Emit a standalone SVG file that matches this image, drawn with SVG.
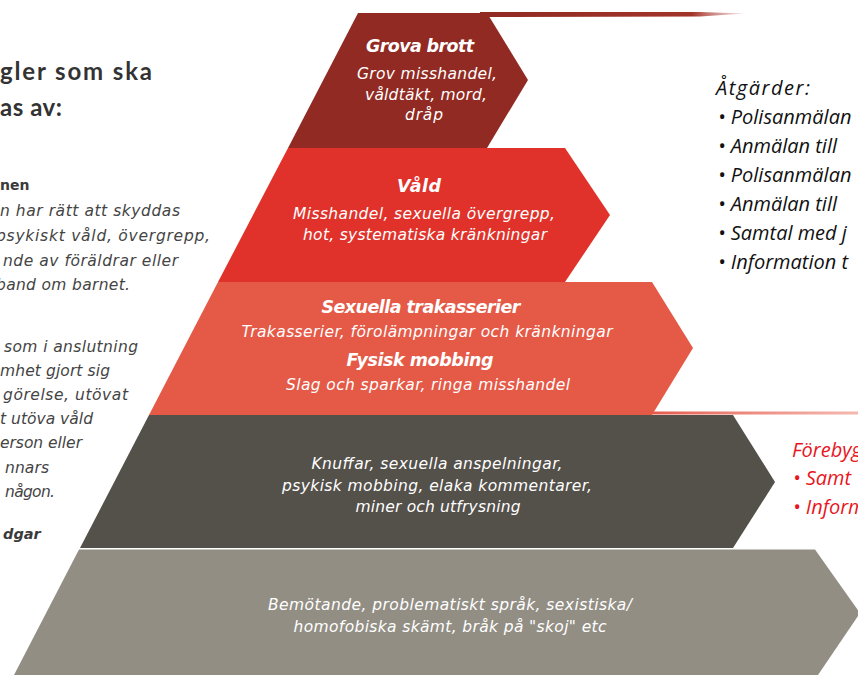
<svg xmlns="http://www.w3.org/2000/svg" width="858" height="675" viewBox="0 0 858 675">
<defs>
<style>
.w{font-family:"DejaVu Sans","Noto Sans",sans-serif;font-style:italic;fill:#ffffff;text-anchor:middle}
.t{font-size:17.5px;font-weight:700}
.s{font-size:15.5px;font-weight:400}
.lt{font-family:"DejaVu Sans","Noto Sans",sans-serif;fill:#3a3a3a}
.hd{font-family:Lato,"Noto Sans",sans-serif;fill:#333333;font-size:24px;font-weight:700}
.li{font-family:"DejaVu Sans","Noto Sans",sans-serif;font-style:italic;font-size:15.5px;fill:#444444}
.r{font-family:"Open Sans","Noto Sans",sans-serif;font-style:italic;font-size:20px;fill:#111111}
.rr{font-family:"Open Sans","Noto Sans",sans-serif;font-style:italic;font-size:20px;fill:#e8161e}
</style>
<linearGradient id="gTop" x1="0" y1="0" x2="1" y2="0">
<stop offset="0" stop-color="#8f2a22"/>
<stop offset="0.8" stop-color="#a2342a"/>
<stop offset="1" stop-color="#d9948c" stop-opacity="0.3"/>
</linearGradient>
<linearGradient id="gMid" x1="0" y1="0" x2="1" y2="0">
<stop offset="0" stop-color="#e5574a"/>
<stop offset="1" stop-color="#f09a8e" stop-opacity="0.7"/>
</linearGradient>
</defs>
<rect width="858" height="675" fill="#ffffff"/>

<g id="left-text">
<text class="hd" x="0" y="80" textLength="152">gler som ska</text>
<text class="hd" x="0" y="116" textLength="62">as av:</text>
<text class="lt" x="0" y="190" font-size="14" font-weight="700">nen</text>
<text class="li" x="0" y="216" textLength="180">n har rätt att skyddas</text>
<text class="li" x="-4" y="241" textLength="214">psykiskt våld, övergrepp,</text>
<text class="li" x="3" y="266" textLength="175">nde av föräldrar eller</text>
<text class="li" x="-4" y="290" textLength="134">band om barnet.</text>
<text class="li" x="4" y="352" textLength="134">som i anslutning</text>
<text class="li" x="0" y="376" textLength="110">mhet gjort sig</text>
<text class="li" x="3" y="400" textLength="125">görelse, utövat</text>
<text class="li" x="0" y="424" textLength="93">t utöva våld</text>
<text class="li" x="0" y="448" textLength="82">erson eller</text>
<text class="li" x="5" y="473" textLength="44">nnars</text>
<text class="li" x="5" y="497" textLength="50">någon.</text>
<text class="lt" x="3" y="539" font-size="14.5" font-weight="700" font-style="italic">dgar</text>
</g>

<g id="connectors">
<polygon points="480,12 700,12 745,13.5 700,16.5 480,17" fill="url(#gTop)"/>
<rect x="650" y="411.5" width="208" height="3" fill="url(#gMid)"/>
</g>

<g id="node-grova-brott">
<polygon points="358,13 487,13 528,80 487,148 288,148" fill="#912a22"/>
<text class="w t" x="420" y="52" textLength="108">Grova brott</text>
<text class="w s" x="427" y="79" textLength="140">Grov misshandel,</text>
<text class="w s" x="426" y="100" textLength="122">våldtäkt, mord,</text>
<text class="w s" x="424" y="120" textLength="38">dråp</text>
</g>

<g id="node-vald">
<polygon points="288,148 565,148 610,215 565,282 218,282" fill="#e0322a"/>
<text class="w t" x="419" y="192" textLength="44">Våld</text>
<text class="w s" x="424" y="219" textLength="262">Misshandel, sexuella övergrepp,</text>
<text class="w s" x="425" y="240" textLength="244">hot, systematiska kränkningar</text>
</g>

<g id="node-sexuella">
<polygon points="218,282 652,282 693,348 652,415 149,415" fill="#e55947"/>
<text class="w t" x="421" y="313" textLength="199">Sexuella trakasserier</text>
<text class="w s" x="427" y="337" textLength="371">Trakasserier, förolämpningar och kränkningar</text>
<text class="w t" x="420" y="366" textLength="147">Fysisk mobbing</text>
<text class="w s" x="428" y="390" textLength="284">Slag och sparkar, ringa misshandel</text>
</g>

<g id="node-dark">
<polygon points="149,415 733,415 775,482 733,548 80,548" fill="#54504a"/>
<text class="w s" x="437" y="469" textLength="251">Knuffar, sexuella anspelningar,</text>
<text class="w s" x="437" y="491" textLength="310">psykisk mobbing, elaka kommentarer,</text>
<text class="w s" x="438" y="512" textLength="165">miner och utfrysning</text>
</g>

<g id="node-light">
<polygon points="79,549.5 815,549.5 860,613 818,675 14,675" fill="#928e84"/>
<text class="w s" x="450" y="610" textLength="364">Bemötande, problematiskt språk, sexistiska/</text>
<text class="w s" x="450" y="632" textLength="313">homofobiska skämt, bråk på "skoj" etc</text>
</g>

<g id="atgarder">
<text class="r" x="716" y="95" textLength="94">Åtgärder:</text>
<text class="r" x="718" y="124">• Polisanmälan</text>
<text class="r" x="718" y="153">• Anmälan till</text>
<text class="r" x="718" y="182">• Polisanmälan</text>
<text class="r" x="718" y="211">• Anmälan till</text>
<text class="r" x="718" y="240">• Samtal med j</text>
<text class="r" x="718" y="269">• Information t</text>
</g>

<g id="forebygg">
<text class="rr" x="792" y="457">Förebyg</text>
<text class="rr" x="793" y="485">• Samt</text>
<text class="rr" x="793" y="514">• Inform</text>
</g>
</svg>
